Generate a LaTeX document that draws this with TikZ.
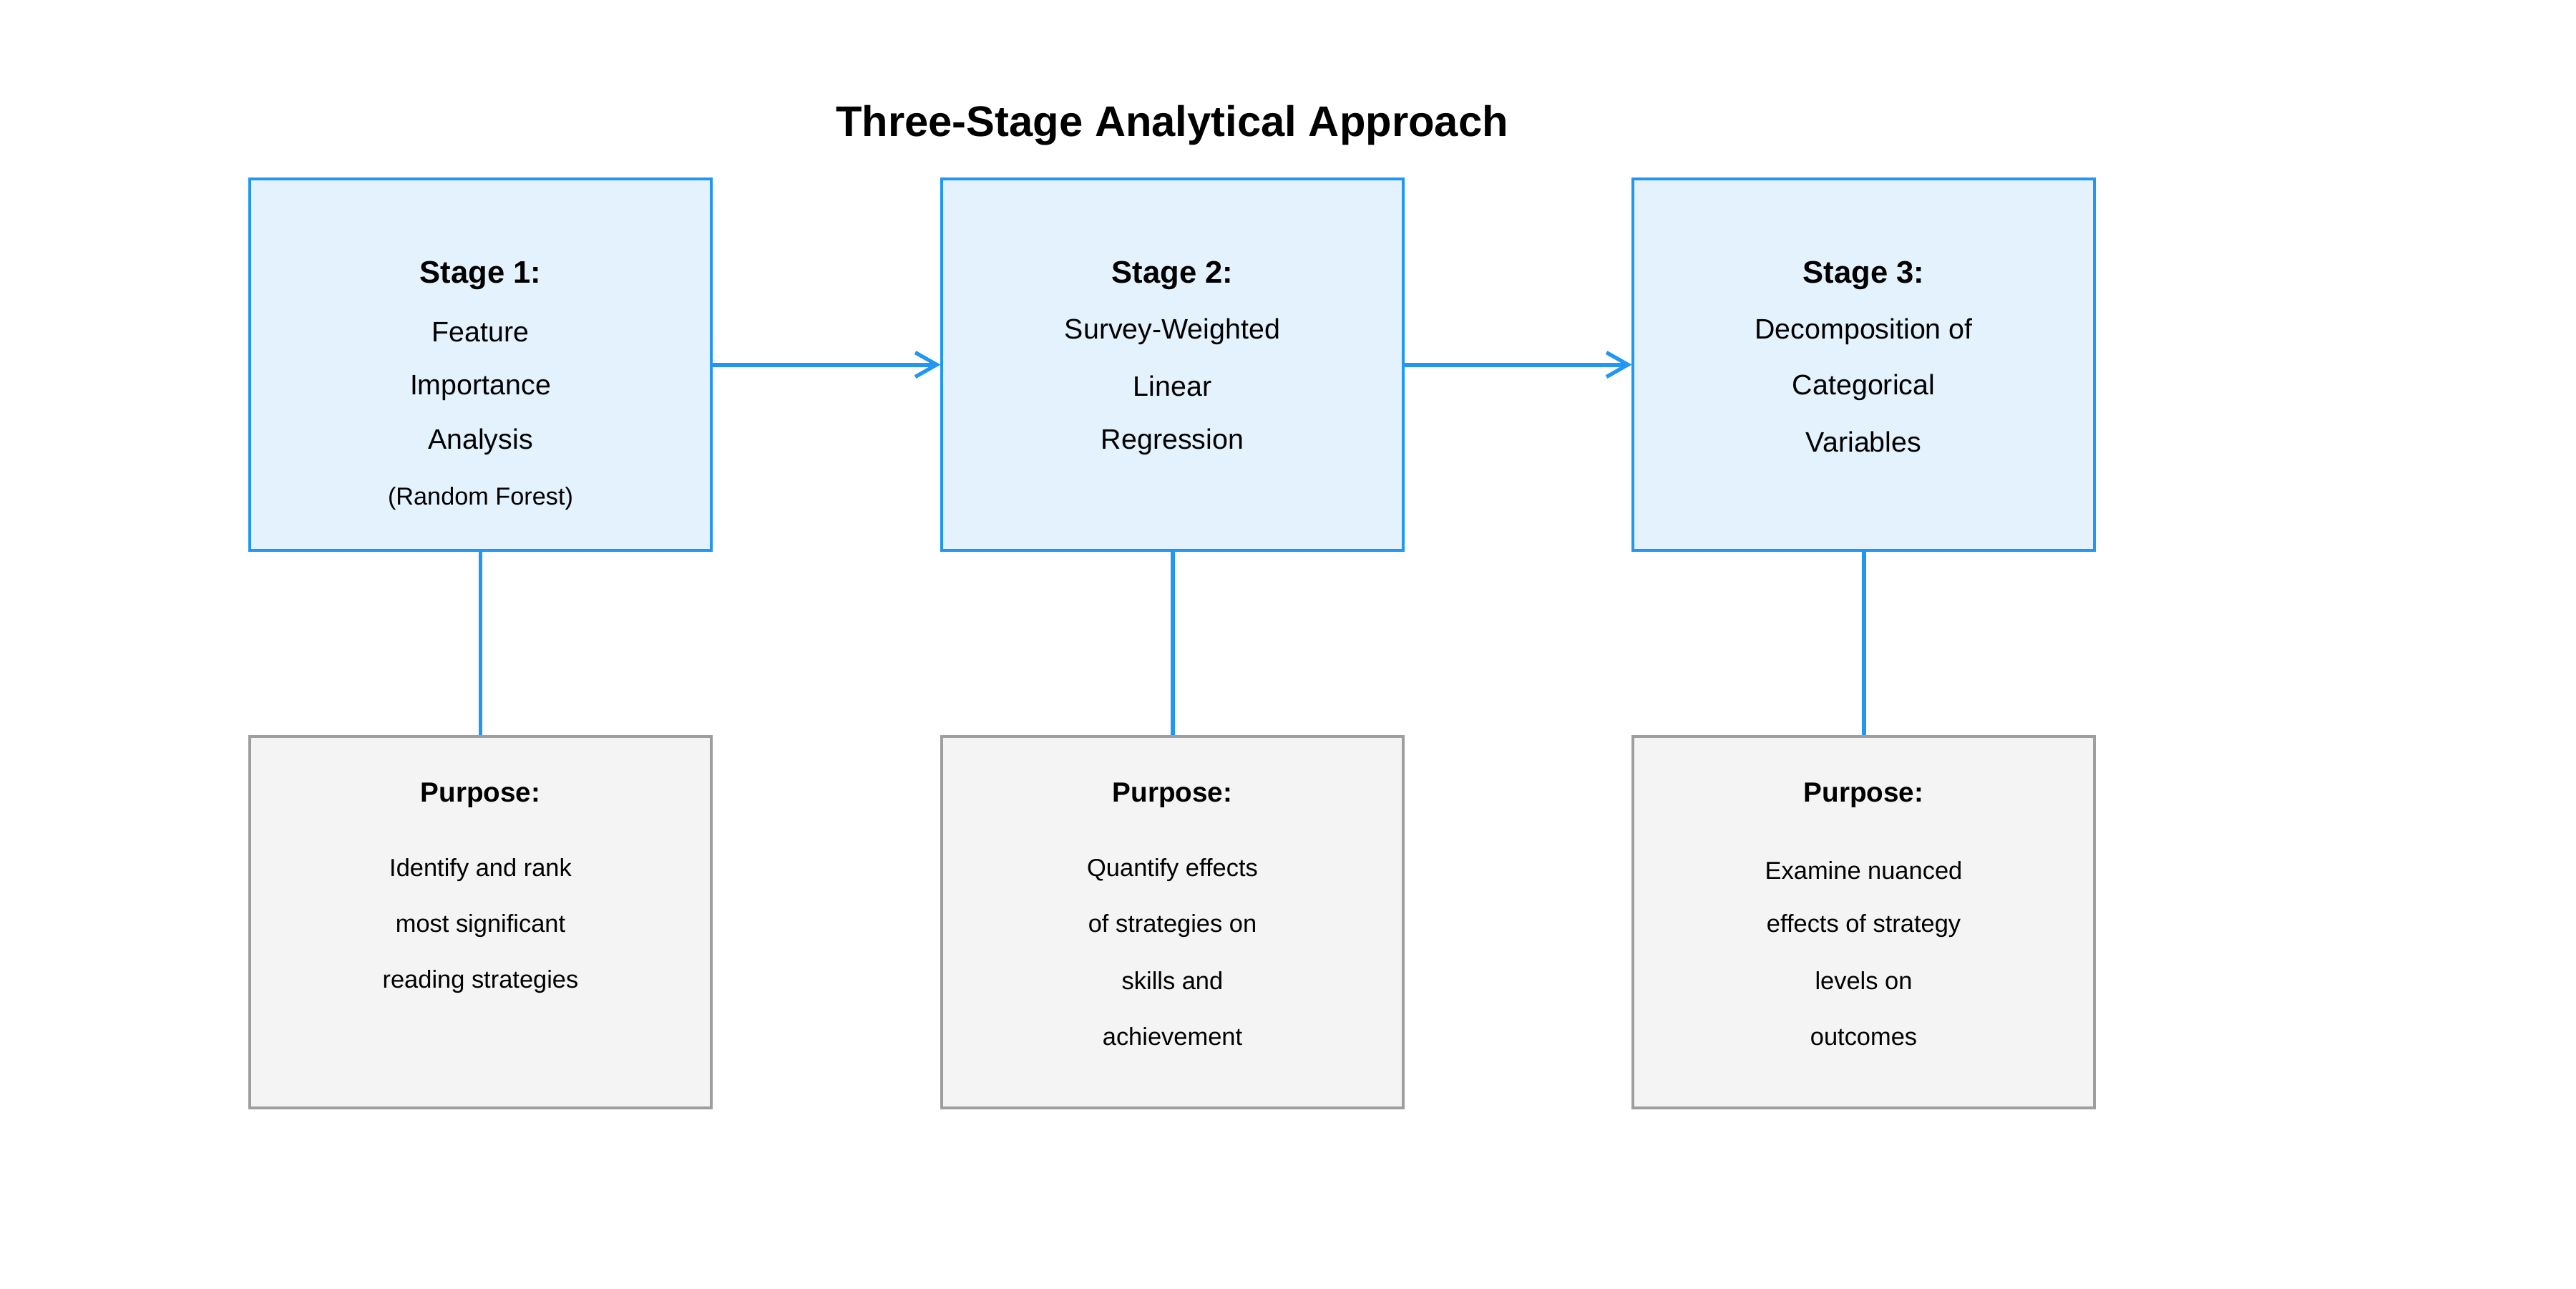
\documentclass[tikz,border=0pt]{standalone}
\usepackage{fontspec}
\setmainfont{Liberation Sans}
\usetikzlibrary{arrows.meta}
\definecolor{stageblue}{HTML}{2196F3}
\definecolor{stagefill}{HTML}{E3F2FD}
\definecolor{purpfill}{HTML}{F4F4F4}
\definecolor{purpline}{HTML}{9E9E9E}
\tikzset{
  stagebox/.style={draw=stageblue, fill=stagefill, line width=0.9pt, minimum width=6.45cm, minimum height=5.19cm, inner sep=0pt},
  purpbox/.style={draw=purpline, fill=purpfill, line width=1pt, minimum width=6.45cm, minimum height=5.19cm, inner sep=0pt},
  conn/.style={draw=stageblue, line width=1.7pt},
  arr/.style={conn, -{Straight Barb[length=3mm, width=3.4mm, line width=1.5pt]}},
  txtbase/.style={anchor=mid, inner sep=0pt, yshift=-0.07cm},
  hd/.style={txtbase, font=\fontsize{12.4}{14}\selectfont\bfseries},
  tx/.style={txtbase, font=\fontsize{11.2}{13}\selectfont},
  sm/.style={txtbase, font=\fontsize{9.75}{12}\selectfont},
  ph/.style={txtbase, font=\fontsize{11}{13}\selectfont\bfseries},
  pt/.style={txtbase, font=\fontsize{9.8}{12}\selectfont},
  ttl/.style={anchor=mid, inner sep=0pt, yshift=-0.11cm, font=\fontsize{17}{20}\selectfont\bfseries}
}
\begin{document}
\begin{tikzpicture}
\useasboundingbox[fill=white] (0,0) rectangle (36,-18);
\node[ttl] (title) at (16.38,-1.70) {Three-Stage Analytical Approach};

% stage boxes
\node[stagebox] (s1) at (6.715,-5.095) {};
\node[stagebox] (s2) at (16.385,-5.095) {};
\node[stagebox] (s3) at (26.045,-5.095) {};
% purpose boxes
\node[purpbox] (p1) at (6.715,-12.885) {};
\node[purpbox] (p2) at (16.385,-12.885) {};
\node[purpbox] (p3) at (26.045,-12.885) {};

% connectors
\draw[arr] (s1.east) -- (s2.west);
\draw[arr] (s2.east) -- (s3.west);
\draw[conn] (s1.south) -- (p1.north);
\draw[conn] (s2.south) -- (p2.north);
\draw[conn] (s3.south) -- (p3.north);

% stage 1 text
\node[hd] (s1h) at (6.715,-3.79) {Stage 1:};
\node[tx] (s1a) at (6.715,-4.61) {Feature};
\node[tx] (s1b) at (6.715,-5.35) {Importance};
\node[tx] (s1c) at (6.715,-6.11) {Analysis};
\node[sm] (s1d) at (6.715,-6.89) {(Random Forest)};
% stage 2 text
\node[hd] (s2h) at (16.385,-3.79) {Stage 2:};
\node[tx] (s2a) at (16.385,-4.57) {Survey-Weighted};
\node[tx] (s2b) at (16.385,-5.37) {Linear};
\node[tx] (s2c) at (16.385,-6.11) {Regression};
% stage 3 text
\node[hd] (s3h) at (26.045,-3.79) {Stage 3:};
\node[tx] (s3a) at (26.045,-4.57) {Decomposition of};
\node[tx] (s3b) at (26.045,-5.35) {Categorical};
\node[tx] (s3c) at (26.045,-6.15) {Variables};

% purpose 1
\node[ph] (p1h) at (6.715,-11.04) {Purpose:};
\node[pt] (p1a) at (6.715,-12.08) {Identify and rank};
\node[pt] (p1b) at (6.715,-12.86) {most significant};
\node[pt] (p1c) at (6.715,-13.64) {reading strategies};
% purpose 2
\node[ph] (p2h) at (16.385,-11.04) {Purpose:};
\node[pt] (p2a) at (16.385,-12.08) {Quantify effects};
\node[pt] (p2b) at (16.385,-12.86) {of strategies on};
\node[pt] (p2c) at (16.385,-13.66) {skills and};
\node[pt] (p2d) at (16.385,-14.44) {achievement};
% purpose 3
\node[ph] (p3h) at (26.045,-11.04) {Purpose:};
\node[pt] (p3a) at (26.045,-12.12) {Examine nuanced};
\node[pt] (p3b) at (26.045,-12.86) {effects of strategy};
\node[pt] (p3c) at (26.045,-13.66) {levels on};
\node[pt] (p3d) at (26.045,-14.44) {outcomes};
\end{tikzpicture}
\end{document}
